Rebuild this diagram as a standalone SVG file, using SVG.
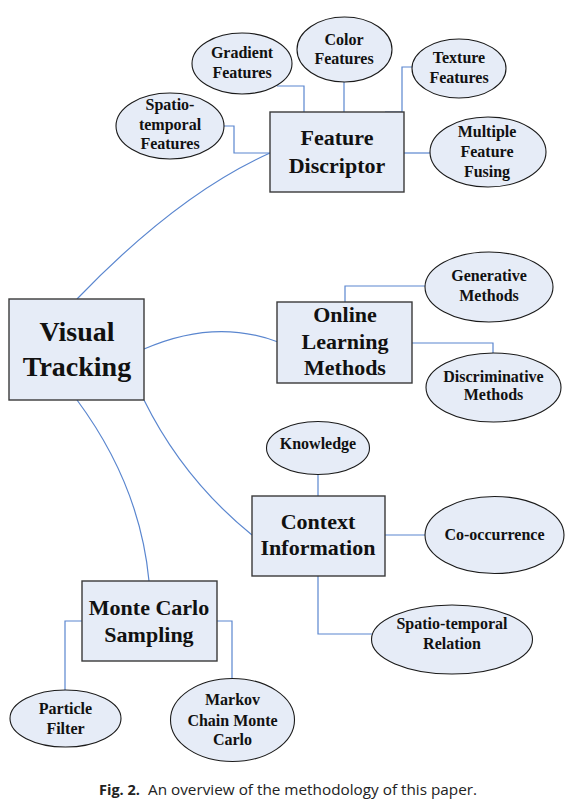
<svg xmlns="http://www.w3.org/2000/svg" width="573" height="803" viewBox="0 0 573 803">
<style>
.box{fill:#E6ECF7;stroke:#3A3A3A;stroke-width:1.4}
.ell{fill:#E6ECF7;stroke:#1A1A1A;stroke-width:1.1}
.conn path,.conn polyline{fill:none;stroke:#5A86CF;stroke-width:1.2}
text{font-family:"Liberation Serif","Times New Roman",serif;font-weight:bold;fill:#111;text-anchor:middle}
.b22{font-size:22px}
.b28{font-size:28px}
.e16{font-size:16px}
.cap{font-family:"Open Sans","Noto Sans",sans-serif;font-weight:normal;font-size:15.3px;text-anchor:start;fill:#222}
</style>
<rect width="573" height="803" fill="#fff"/>
<g class="conn" id="connectors">
<path d="M77,299 Q178,194 270,153"/>
<path d="M144,349 Q215,318 278,342"/>
<path d="M77,400 Q140,485 149,581"/>
<path d="M144,400 Q183,479 252,535"/>
<polyline points="277,86 304,86 304,112"/>
<polyline points="344,82 344,112"/>
<polyline points="412,67 402,67 402,112 385,112"/>
<polyline points="224,126 234,126 234,153 270,153"/>
<polyline points="404,153 430,153"/>
<polyline points="425,286 345,286 345,302"/>
<polyline points="412,343 493,343 493,353"/>
<polyline points="318,474 318,496"/>
<polyline points="385,535 425,535"/>
<polyline points="318,576 318,634 372,634"/>
<polyline points="82,621 65,621 65,690"/>
<polyline points="217,621 232,621 232,678"/>
</g>
<g id="visual-tracking">
<rect class="box" x="9" y="299" width="135" height="101"/>
<text class="b28" x="77" y="341">Visual</text>
<text class="b28" x="77" y="376">Tracking</text>
</g>
<g id="feature-discriptor">
<rect class="box" x="270" y="112" width="134" height="80"/>
<text class="b22" x="337" y="145">Feature</text>
<text class="b22" x="337" y="173">Discriptor</text>
</g>
<g id="gradient-features">
<ellipse class="ell" cx="242" cy="63.5" rx="50" ry="30.5"/>
<text class="e16" x="242" y="58">Gradient</text>
<text class="e16" x="242" y="78">Features</text>
</g>
<g id="color-features">
<ellipse class="ell" cx="344.5" cy="49.5" rx="47.5" ry="32.5"/>
<text class="e16" x="344" y="45">Color</text>
<text class="e16" x="344" y="64">Features</text>
</g>
<g id="texture-features">
<ellipse class="ell" cx="459" cy="68.5" rx="47" ry="29.5"/>
<text class="e16" x="459" y="63">Texture</text>
<text class="e16" x="459" y="83">Features</text>
</g>
<g id="spatio-temporal-features">
<ellipse class="ell" cx="170" cy="126" rx="54" ry="33"/>
<text class="e16" x="170" y="110">Spatio-</text>
<text class="e16" x="170" y="130">temporal</text>
<text class="e16" x="170" y="149">Features</text>
</g>
<g id="multiple-feature-fusing">
<ellipse class="ell" cx="488" cy="152" rx="58" ry="35"/>
<text class="e16" x="487" y="137">Multiple</text>
<text class="e16" x="487" y="157">Feature</text>
<text class="e16" x="487" y="177">Fusing</text>
</g>
<g id="online-learning">
<rect class="box" x="277" y="302" width="135" height="81"/>
<text class="b22" x="345" y="322">Online</text>
<text class="b22" x="345" y="348.5">Learning</text>
<text class="b22" x="345" y="375">Methods</text>
</g>
<g id="generative-methods">
<ellipse class="ell" cx="489" cy="287" rx="64" ry="35"/>
<text class="e16" x="489" y="281">Generative</text>
<text class="e16" x="489" y="301">Methods</text>
</g>
<g id="discriminative-methods">
<ellipse class="ell" cx="493.5" cy="387.5" rx="67.5" ry="34.5"/>
<text class="e16" x="493.5" y="382">Discriminative</text>
<text class="e16" x="493.5" y="400">Methods</text>
</g>
<g id="context-information">
<rect class="box" x="252" y="496" width="133" height="80"/>
<text class="b22" x="318" y="528.5">Context</text>
<text class="b22" x="318" y="555">Information</text>
</g>
<g id="knowledge">
<ellipse class="ell" cx="318" cy="448" rx="51.5" ry="26.5"/>
<text class="e16" x="318" y="449">Knowledge</text>
</g>
<g id="co-occurrence">
<ellipse class="ell" cx="494.5" cy="535" rx="69.5" ry="38.5"/>
<text class="e16" x="494.5" y="540">Co-occurrence</text>
</g>
<g id="spatio-temporal-relation">
<ellipse class="ell" cx="452" cy="639.5" rx="80.5" ry="34.5"/>
<text class="e16" x="452" y="628.5">Spatio-temporal</text>
<text class="e16" x="452" y="648.5">Relation</text>
</g>
<g id="monte-carlo">
<rect class="box" x="82" y="581" width="135" height="80"/>
<text class="b22" x="149" y="614.5">Monte Carlo</text>
<text class="b22" x="149" y="642">Sampling</text>
</g>
<g id="particle-filter">
<ellipse class="ell" cx="65.5" cy="718.5" rx="55.5" ry="28.5"/>
<text class="e16" x="65.5" y="713.5">Particle</text>
<text class="e16" x="65.5" y="733.5">Filter</text>
</g>
<g id="mcmc">
<ellipse class="ell" cx="232.5" cy="720" rx="62" ry="41.5"/>
<text class="e16" x="232.5" y="705">Markov</text>
<text class="e16" x="232.5" y="726">Chain Monte</text>
<text class="e16" x="232.5" y="745">Carlo</text>
</g>
<g id="caption">
<text class="cap" x="99" y="795"><tspan font-weight="bold" font-size="14.5">Fig. 2.</tspan><tspan x="148">An overview of the methodology of this paper.</tspan></text>
</g>
</svg>
